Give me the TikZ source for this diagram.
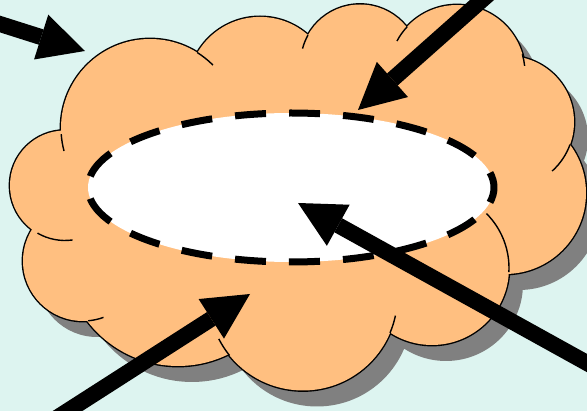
\documentclass[tikz,border=0pt]{standalone}
\usetikzlibrary{arrows.meta,shapes.geometric}

\definecolor{sea}{RGB}{221,244,240}
\definecolor{puff}{RGB}{255,191,128}
\definecolor{shadowgrey}{RGB}{128,128,128}

\newcommand{\puffs}{65/185.5/55, 150/128/89, 260/89.5/72.6, 360/64/59.5, 457/73/68, 508/122/66, 505/193/81, 432/268/77, 303/296/94.5, 178/252/114, 83/261/60}
\newcommand{\cloudcore}{(65,185.5) -- (150,128) -- (260,89.5) -- (360,64) -- (457,73) -- (508,122) -- (505,193) -- (432,268) -- (303,296) -- (178,252) -- (83,261) -- cycle}

\begin{document}
\begin{tikzpicture}[x=1pt,y=-1pt]

\tikzstyle{hole} = [ellipse, draw=black, fill=white, line width=7pt, minimum width=406pt, minimum height=149pt, inner sep=0pt, dash pattern=on 31pt off 23.07pt, dash phase=15.5pt]
\tikzstyle{arrow} = [line width=16pt, -{Triangle[length=46pt,width=47pt,line width=0pt]}]
\tikzstyle{stub} = [line width=1.4pt]

\useasboundingbox (0,0) rectangle (587,411);
\fill[sea] (0,0) rectangle (587,411);
\clip (0,0) rectangle (587,411);

\begin{scope}[shift={(14,16)}]
\fill[shadowgrey] \foreach \x/\y/\r in \puffs {(\x,\y) circle (\r)};
\fill[shadowgrey] \cloudcore;
\end{scope}

\draw[line width=2.8pt] \foreach \x/\y/\r in \puffs {(\x,\y) circle (\r)};
\fill[puff] \foreach \x/\y/\r in \puffs {(\x,\y) circle (\r)};
\fill[puff] \cloudcore;

\foreach \x/\y/\r/\a/\b in {150/128/89/176/165, 150/128/89/-58/-45, 360/64/59.5/-151/-165, 457/73/68/-137/-152, 457/73/68/-16/-6, 508/122/66/20/48, 432/268/77/3/-45, 303/296/94.5/23/12, 303/296/94.5/141/153, 83/261/60/85/70, 65/185.5/55/120/82}
  \draw[stub] ([shift={(\a:\r)}]\x,\y) arc (\a:\b:\r);

\node (hole) [hole] at (291,187.5) {};

\coordinate (fromNW) at (-29.4,14.7);
\coordinate (toNW) at (85,51);
\coordinate (fromNE) at (515.8,-30);
\coordinate (toNE) at (358,110);
\coordinate (fromSW) at (22.3,440);
\coordinate (toSW) at (250,294);
\coordinate (fromSE) at (620,381.3);
\coordinate (toSE) at (298,203);

\draw [arrow] (fromNW) -- (toNW);
\draw [arrow] (fromNE) -- (toNE);
\draw [arrow] (fromSW) -- (toSW);
\draw [arrow] (fromSE) -- (toSE);

\end{tikzpicture}
\end{document}
